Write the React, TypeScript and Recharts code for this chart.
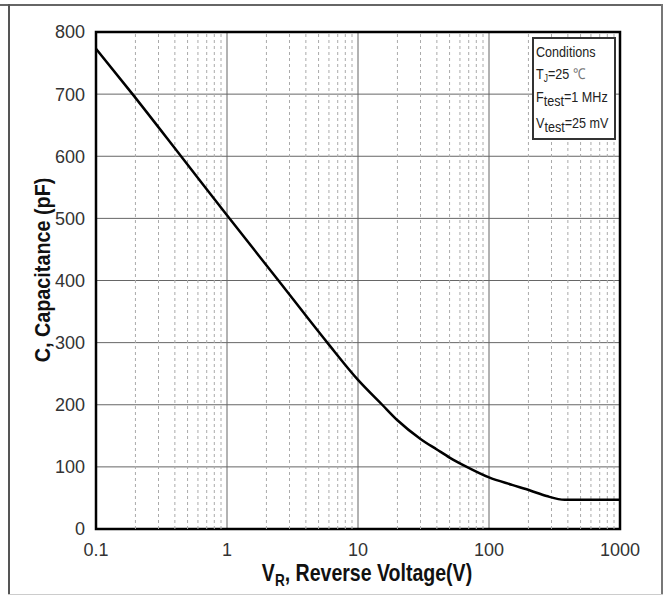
import React from 'react';
import {
  LineChart,
  Line,
  XAxis,
  YAxis,
  CartesianGrid,
  ReferenceLine,
  ReferenceArea,
  Label,
} from 'recharts';

// Reverse voltage (V) and capacitance (pF)
const voltage = [0.1, 0.19, 0.446, 1, 2.47, 5.83, 10, 15.3, 20, 30, 40, 50, 67.6, 100, 150, 206, 275, 378, 1000];
const capacitance = [773, 700, 600, 505, 400, 300, 240, 200, 175, 145, 128, 115, 100, 83, 71, 62, 53, 47, 47];

const xTicks = [0.1, 1, 10, 100, 1000];
const yTicks = [0, 100, 200, 300, 400, 500, 600, 700, 800];
const minorX = [
  0.2, 0.3, 0.4, 0.5, 0.6, 0.7, 0.8, 0.9,
  2, 3, 4, 5, 6, 7, 8, 9,
  20, 30, 40, 50, 60, 70, 80, 90,
  200, 300, 400, 500, 600, 700, 800, 900,
];

const data = voltage.map((v, i) => ({ v, c: capacitance[i] }));

const FONT = "'Liberation Sans', Arial, sans-serif";

const YTitle = () => (
  <text
    x={0}
    y={0}
    transform="translate(42 270) rotate(-90) scale(0.9 1)"
    textAnchor="middle"
    dominantBaseline="central"
    fontFamily={FONT}
    fontWeight="bold"
    fontSize={22}
    fill="#111"
  >
    C, Capacitance (pF)
  </text>
);

const XTitle = () => (
  <text
    x={0}
    y={0}
    transform="translate(367 581) scale(0.85 1)"
    textAnchor="middle"
    fontFamily={FONT}
    fontWeight="bold"
    fontSize={23}
    fill="#111"
  >
    V
    <tspan fontSize={16} dy={5}>R</tspan>
    <tspan dy={-5}>, Reverse Voltage(V)</tspan>
  </text>
);

export default function App() {
  return (
    <div style={{ position: 'absolute', left: 0, top: 0, width: 666, height: 597, background: '#fff' }}>
      {/* outer frame */}
      <div style={{ position: 'absolute', left: 0, top: 4, width: 662, height: 2, background: '#666' }} />
      <div style={{ position: 'absolute', left: 8, top: 4, width: 2, height: 591, background: '#555' }} />
      <div style={{ position: 'absolute', left: 661, top: 4, width: 2, height: 591, background: '#777' }} />
      <div style={{ position: 'absolute', left: 8, top: 594, width: 655, height: 1, background: '#ccc' }} />
      <LineChart
        width={666}
        height={597}
        data={data}
        margin={{ top: 32, right: 46, bottom: 28, left: 36 }}
      >
        <CartesianGrid stroke="#666" strokeWidth={1} />
        {minorX.map((m) => (
          <ReferenceLine key={m} x={m} stroke="#aaa" strokeWidth={1} strokeDasharray="3 3" />
        ))}
        <XAxis
          dataKey="v"
          type="number"
          scale="log"
          domain={[0.1, 1000]}
          ticks={xTicks}
          allowDataOverflow
          height={40}
          tickSize={0}
          tickMargin={14}
          axisLine={false}
          tickLine={false}
          tick={{ fontFamily: FONT, fontSize: 18, fill: '#333' }}
          tickFormatter={(t: number) => String(t)}
        >
          <Label content={<XTitle />} />
        </XAxis>
        <YAxis
          type="number"
          domain={[0, 800]}
          ticks={yTicks}
          width={60}
          tickSize={0}
          tickMargin={11}
          axisLine={false}
          tickLine={false}
          tick={{ fontFamily: FONT, fontSize: 18, fill: '#333' }}
        >
          <Label content={<YTitle />} />
        </YAxis>
        <ReferenceArea x1={0.1} x2={1000} y1={0} y2={800} fill="none" stroke="#000" strokeWidth={2.5} />
        <Line
          dataKey="c"
          type="monotone"
          stroke="#000"
          strokeWidth={2.5}
          dot={false}
          isAnimationActive={false}
        />
      </LineChart>
      {/* conditions box */}
      <svg style={{ position: 'absolute', left: 532, top: 37 }} width={85} height={104}>
        <rect x={1} y={1} width={82} height={101} fill="#fff" stroke="#333" strokeWidth={2} />
        <g fontFamily={FONT} fontSize={15} fill="#222" transform="translate(4 0) scale(0.84 1)">
          <text x={0} y={20}>Conditions</text>
          <text x={0} y={42}>
            T<tspan fontSize={10} dy={3}>J</tspan>
            <tspan dy={-3}>=25 </tspan>
            <tspan fill="#777">℃</tspan>
          </text>
          <text x={0} y={65}>
            F<tspan dy={4}>test</tspan>
            <tspan dy={-4}>=1 MHz</tspan>
          </text>
          <text x={0} y={91}>
            V<tspan dy={4}>test</tspan>
            <tspan dy={-4}>=25 mV</tspan>
          </text>
        </g>
      </svg>
    </div>
  );
}
